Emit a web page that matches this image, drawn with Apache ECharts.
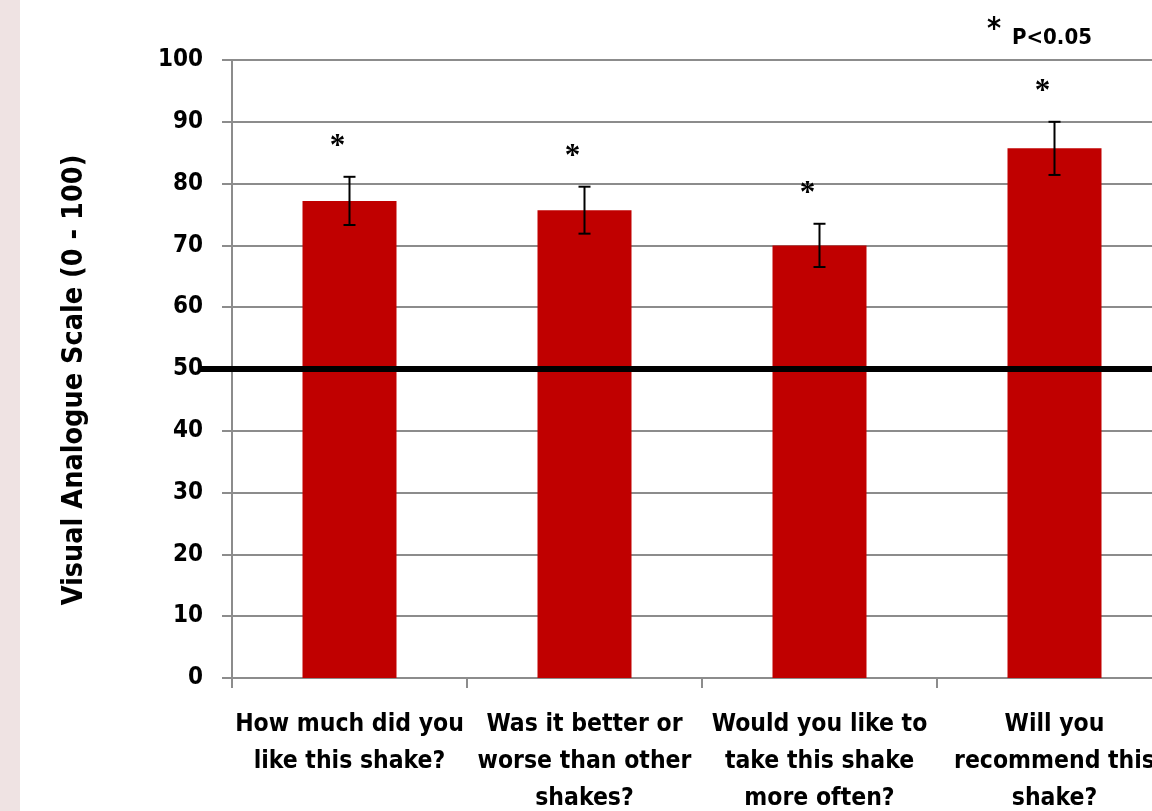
<!DOCTYPE html>
<html>
<head>
<meta charset="utf-8">
<style>
  html, body { margin: 0; padding: 0; background: #ffffff; }
  #side { position: absolute; left: 0; top: 0; width: 20px; height: 811px; background: #efe3e3; }
  #chart { position: absolute; left: 0; top: 0; width: 1152px; height: 811px; }
</style>
<script src="https://cdn.jsdelivr.net/npm/echarts@6/dist/echarts.min.js"></script>
</head>
<body>
<div id="side"></div>
<div id="chart"></div>
<script>
// Survey questions shown along the category axis
const categories = [
  'How much did you\nlike this shake?',
  'Was it better or\nworse than other\nshakes?',
  'Would you like to\ntake this shake\nmore often?',
  'Will you\nrecommend this\nshake?'
];
// Mean VAS score per question and its error (± half-length of the whisker)
const means = [77.2, 75.7, 70.0, 85.7];
const errors = [3.9, 3.8, 3.5, 4.3];
// Significance marker shown above each whisker
const significance = ['*', '*', '*', '*'];
// Neutral reference level on the scale
const referenceLevel = 50;

const FONT = "'DejaVu Sans Condensed', 'Liberation Sans Narrow', sans-serif";
const GRID_COLOR = '#8c8c8c';

const chart = echarts.init(document.getElementById('chart'), null, { renderer: 'canvas' });

const errorData = means.map((m, i) => [i, m - errors[i], m + errors[i]]);

chart.setOption({
  backgroundColor: 'transparent',
  animation: false,
  // the plot runs past the right edge of the page
  grid: { left: 232, width: 940, top: 60, height: 618, containLabel: false, outerBoundsMode: 'none' },
  xAxis: {
    type: 'category',
    data: categories,
    boundaryGap: true,
    axisLine: { show: true, lineStyle: { color: GRID_COLOR, width: 2 } },
    axisTick: { show: true, length: 10, interval: 0, lineStyle: { color: GRID_COLOR, width: 2 } },
    axisLabel: {
      interval: 0,
      margin: 28,
      color: '#000',
      fontFamily: FONT,
      fontWeight: 'bold',
      fontSize: 24.5,
      lineHeight: 37,
      align: 'center'
    }
  },
  yAxis: {
    type: 'value',
    min: 0,
    max: 100,
    interval: 10,
    name: 'Visual Analogue Scale (0 - 100)',
    nameLocation: 'middle',
    nameRotate: 90,
    nameGap: 143,
    nameTextStyle: { color: '#000', fontFamily: FONT, fontWeight: 'bold', fontSize: 28.5, padding: [0, 22, 0, 0] },
    axisLine: { show: true, lineStyle: { color: GRID_COLOR, width: 2 } },
    axisTick: { show: true, inside: false, length: 10, lineStyle: { color: GRID_COLOR, width: 2 } },
    splitLine: { show: true, lineStyle: { color: GRID_COLOR, width: 2 } },
    axisLabel: {
      margin: 29,
      color: '#000',
      fontFamily: FONT,
      fontWeight: 'bold',
      fontSize: 24
    }
  },
  series: [
    {
      type: 'bar',
      data: means,
      barWidth: '40%',
      itemStyle: { color: '#c00000' },
      z: 2
    },
    {
      type: 'custom',
      data: errorData,
      z: 5,
      renderItem: function (params, api) {
        const idx = api.value(0);
        const lo = api.coord([idx, api.value(1)]);
        const hi = api.coord([idx, api.value(2)]);
        const half = 6;
        const style = { stroke: '#000', lineWidth: 2 };
        return {
          type: 'group',
          children: [
            { type: 'line', shape: { x1: hi[0], y1: hi[1], x2: lo[0], y2: lo[1] }, style },
            { type: 'line', shape: { x1: hi[0] - half, y1: hi[1], x2: hi[0] + half, y2: hi[1] }, style },
            { type: 'line', shape: { x1: lo[0] - half, y1: lo[1], x2: lo[0] + half, y2: lo[1] }, style },
            {
              type: 'text',
              x: hi[0] - 12,
              y: hi[1] - 30,
              style: {
                text: significance[params.dataIndex],
                fill: '#000',
                font: "bold 31px 'Liberation Serif', 'DejaVu Serif', serif",
                align: 'center',
                verticalAlign: 'middle'
              }
            }
          ]
        };
      }
    }
  ]
});

// Heavy reference line at the neutral level, running across past the axis labels
const refY = chart.convertToPixel({ yAxisIndex: 0 }, referenceLevel);
chart.setOption({
  graphic: [
    {
      type: 'line',
      z: 100,
      shape: { x1: 200, y1: refY, x2: 1152, y2: refY },
      style: { stroke: '#000', lineWidth: 6 }
    },
    {
      type: 'text',
      z: 100,
      left: 987,
      top: 15,
      style: { text: '*', fill: '#000', font: "bold 30px " + FONT }
    },
    {
      type: 'text',
      z: 100,
      left: 1012,
      top: 27,
      style: { text: 'P<0.05', fill: '#000', font: "bold 22px " + FONT }
    }
  ]
});
</script>
</body>
</html>
